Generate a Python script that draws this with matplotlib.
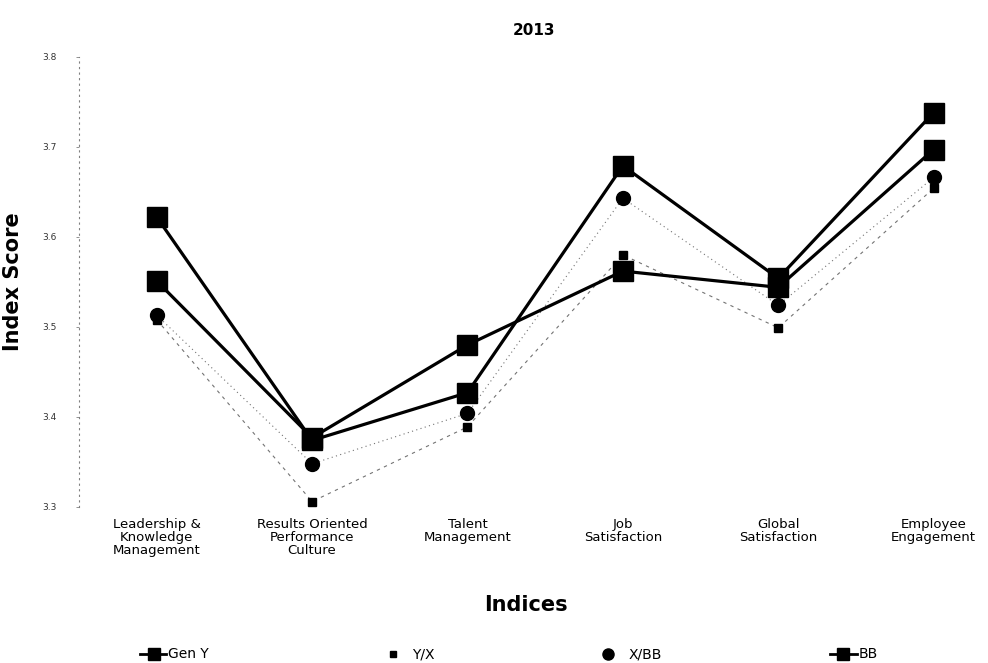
import matplotlib
matplotlib.use("Agg")
import matplotlib.pyplot as plt
from matplotlib.lines import Line2D

plt.rcParams['font.family'] = ['DejaVu Sans']

# --- data ---
CATEGORIES = ['Leadership &\nKnowledge\nManagement',
              'Results Oriented\nPerformance\nCulture',
              'Talent\nManagement',
              'Job\nSatisfaction',
              'Global\nSatisfaction',
              'Employee\nEngagement']
GEN_Y = [3.622, 3.374, 3.427, 3.679, 3.554, 3.738]
Y_X = [3.508, 3.306, 3.389, 3.580, 3.499, 3.654]
X_BB = [3.513, 3.348, 3.404, 3.643, 3.524, 3.666]
BB = [3.551, 3.377, 3.480, 3.562, 3.544, 3.697]
Y_TICKS = [3.3, 3.4, 3.5, 3.6, 3.7, 3.8]
SERIES_NAMES = ['Gen Y', 'Y/X', 'X/BB', 'BB']

W, H = 988, 663
fig = plt.figure(figsize=(W / 100, H / 100), dpi=100)
ax = fig.add_axes([0.08, 0.2353, 0.92, 0.679])

x = list(range(len(CATEGORIES)))

# thin dotted series first, solid series on top
ax.plot(x, Y_X, color='0.45', lw=0.8, ls=(0, (3, 4)), marker='s',
        ms=6, mfc='black', mec='black', zorder=2)
ax.plot(x, X_BB, color='0.45', lw=0.8, ls=(0, (1, 3)), marker='o',
        ms=10, mfc='black', mec='black', zorder=3)
ax.plot(x, BB, color='black', lw=2.3, marker='s', ms=15,
        mfc='black', mec='black', zorder=4)
ax.plot(x, GEN_Y, color='black', lw=2.3, marker='s', ms=15,
        mfc='black', mec='black', zorder=5)

ax.set_xlim(-0.5, 5.35)
ax.set_ylim(3.3, 3.8)
ax.set_yticks(Y_TICKS)
ax.set_yticklabels([f'{t:.1f}' for t in Y_TICKS], fontsize=6.5, color='0.2')
ax.set_xticks(x)
ax.set_xticklabels(CATEGORIES, fontsize=9.5, linespacing=1.0)
ax.tick_params(axis='x', length=0, pad=8)
ax.tick_params(axis='y', length=2, width=0.6, color='0.5', pad=14)

for side in ('top', 'right', 'bottom'):
    ax.spines[side].set_visible(False)
ax.spines['left'].set_linestyle((0, (1, 4)))
ax.spines['left'].set_color('0.5')
ax.spines['left'].set_linewidth(0.8)

ax.set_title('2013', fontsize=11, fontweight='bold', pad=16)
ax.set_ylabel('Index Score', fontsize=15, fontweight='bold')
ax.yaxis.set_label_coords(-0.062, 0.5)
fig.text(0.532, 0.088, 'Indices', fontsize=15, fontweight='bold',
         ha='center', va='center')

# legend drawn by hand so the four entries sit where the reference has them
ly = 1 - 654 / H


def fx(px):
    return px / W


fig.add_artist(Line2D([fx(140), fx(166)], [ly, ly], color='black', lw=2,
                      transform=fig.transFigure))
fig.add_artist(Line2D([fx(154)], [ly], marker='s', ms=8, color='black',
                      transform=fig.transFigure))
fig.text(fx(168), ly, SERIES_NAMES[0], fontsize=10, va='center')

fig.add_artist(Line2D([fx(393)], [ly], marker='s', ms=5, color='black',
                      transform=fig.transFigure))
fig.text(fx(412), ly, SERIES_NAMES[1], fontsize=10, va='center')

fig.add_artist(Line2D([fx(608)], [ly], marker='o', ms=8, color='black',
                      transform=fig.transFigure))
fig.text(fx(629), ly, SERIES_NAMES[2], fontsize=10, va='center')

fig.add_artist(Line2D([fx(830), fx(857)], [ly, ly], color='black', lw=2,
                      transform=fig.transFigure))
fig.add_artist(Line2D([fx(843)], [ly], marker='s', ms=8, color='black',
                      transform=fig.transFigure))
fig.text(fx(859), ly, SERIES_NAMES[3], fontsize=10, va='center')

fig.savefig('out.png', dpi=100)
